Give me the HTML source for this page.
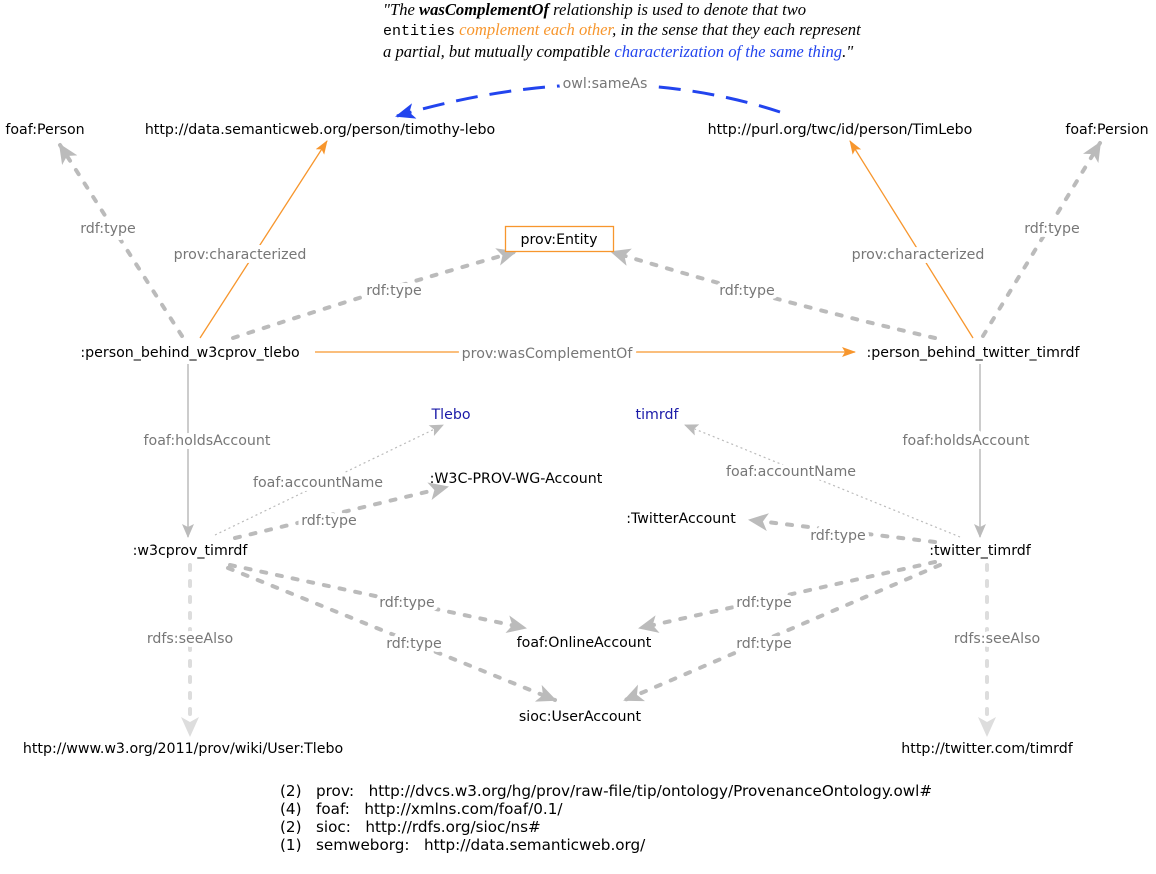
<!DOCTYPE html>
<html><head><meta charset="utf-8"><style>
html,body{margin:0;padding:0;background:#fff;width:1156px;height:874px;overflow:hidden}
svg text{font-family:"DejaVu Sans",sans-serif;font-size:14.2px}
.n{fill:#000;text-anchor:middle}
.l{fill:#777;text-anchor:middle;stroke:#fff;stroke-width:8;paint-order:stroke;stroke-linejoin:round}
.b{fill:#1a1aa8;text-anchor:middle}
.dt{stroke:#bbb;stroke-width:4;stroke-dasharray:5,11;stroke-linecap:round;fill:none}
.dl{stroke:#ddd;stroke-width:4;stroke-dasharray:5,11;stroke-linecap:round;fill:none}
.or{stroke:#f7962d;stroke-width:1.3;fill:none}
.gr{stroke:#bbb;stroke-width:1.5;fill:none}
.dot{stroke:#bbb;stroke-width:1.2;stroke-dasharray:2,3;fill:none}
.q{position:absolute;left:383px;top:0px;font-family:"Liberation Serif",serif;font-style:italic;font-size:16.6px;line-height:20px;color:#000;width:560px;white-space:nowrap}
.ns{position:absolute;left:280px;top:782px;font-family:"DejaVu Sans",sans-serif;font-size:15.2px;line-height:18px;color:#000;white-space:nowrap}
</style></head><body>
<div class="q">"The <b>wasComplementOf</b> relationship is used to denote that two<br><span style="font-family:'Liberation Mono',monospace;font-style:normal;font-size:15px">entities</span> <span style="color:#f7962d">complement each other</span>, in the sense that they each represent<br>a partial, but mutually compatible <span style="color:#2244ee">characterization of the same thing</span>."</div>
<svg width="1156" height="874" style="position:absolute;left:0;top:0">
<defs>
<marker id="agb" markerWidth="20" markerHeight="18" refX="18" refY="9" orient="auto" markerUnits="userSpaceOnUse"><path d="M0,0 L20,9 L0,18 L5,9 z" fill="#bbb"/></marker>
<marker id="agl" markerWidth="20" markerHeight="18" refX="18" refY="9" orient="auto" markerUnits="userSpaceOnUse"><path d="M0,0 L20,9 L0,18 L5,9 z" fill="#ddd"/></marker>
<marker id="ao" markerWidth="14" markerHeight="10" refX="13" refY="5" orient="auto" markerUnits="userSpaceOnUse"><path d="M0,0 L14,5 L0,10 L3,5 z" fill="#f7962d"/></marker>
<marker id="abl" markerWidth="20" markerHeight="16" refX="18" refY="8" orient="auto" markerUnits="userSpaceOnUse"><path d="M0,0 L20,8 L0,16 L5,8 z" fill="#2244ee"/></marker>
<marker id="ag2" markerWidth="14" markerHeight="12" refX="13" refY="6" orient="auto" markerUnits="userSpaceOnUse"><path d="M0,0 L14,6 L0,12 L3,6 z" fill="#bbb"/></marker>
</defs>
<path d="M780,112 Q605,55 397,116" stroke="#2244ee" stroke-width="3" stroke-dasharray="22,12" fill="none" marker-end="url(#abl)"/>
<text class="l" x="605" y="88">owl:sameAs</text>
<line class="dt" x1="182" y1="336" x2="60" y2="145" marker-end="url(#agb)"/>
<line class="or" x1="200" y1="338" x2="327" y2="141" marker-end="url(#ao)"/>
<path class="dt" d="M233,338 Q380,290 515,252" marker-end="url(#agb)"/>
<path class="dt" d="M935,338 Q770,300 612,252" marker-end="url(#agb)"/>
<line class="or" x1="973" y1="338" x2="850" y2="141" marker-end="url(#ao)"/>
<line class="dt" x1="983" y1="336" x2="1100" y2="143" marker-end="url(#agb)"/>
<line class="or" x1="315" y1="352" x2="855" y2="352" marker-end="url(#ao)"/>
<line class="gr" x1="188" y1="364" x2="188" y2="537" marker-end="url(#ag2)"/>
<line class="gr" x1="980" y1="364" x2="980" y2="537" marker-end="url(#ag2)"/>
<line class="dot" x1="215" y1="535" x2="443" y2="425" marker-end="url(#ag2)"/>
<line class="dt" x1="235" y1="538" x2="447" y2="487" marker-end="url(#agb)"/>
<line class="dot" x1="960" y1="537" x2="685" y2="425" marker-end="url(#ag2)"/>
<line class="dt" x1="935" y1="542" x2="750" y2="520" marker-end="url(#agb)"/>
<line class="dt" x1="230" y1="565" x2="525" y2="628" marker-end="url(#agb)"/>
<line class="dt" x1="228" y1="568" x2="555" y2="700" marker-end="url(#agb)"/>
<line class="dt" x1="935" y1="562" x2="640" y2="628" marker-end="url(#agb)"/>
<line class="dt" x1="940" y1="565" x2="625" y2="700" marker-end="url(#agb)"/>
<line class="dl" x1="190" y1="565" x2="190" y2="735" marker-end="url(#agl)"/>
<line class="dl" x1="987" y1="565" x2="987" y2="735" marker-end="url(#agl)"/>
<text class="l" x="108" y="233">rdf:type</text>
<text class="l" x="240" y="259">prov:characterized</text>
<text class="l" x="394" y="295">rdf:type</text>
<text class="l" x="747" y="295">rdf:type</text>
<text class="l" x="918" y="259">prov:characterized</text>
<text class="l" x="1052" y="233">rdf:type</text>
<text class="l" x="547" y="358">prov:wasComplementOf</text>
<text class="l" x="207" y="445">foaf:holdsAccount</text>
<text class="l" x="966" y="445">foaf:holdsAccount</text>
<text class="l" x="318" y="487">foaf:accountName</text>
<text class="l" x="329" y="525">rdf:type</text>
<text class="l" x="791" y="476">foaf:accountName</text>
<text class="l" x="838" y="540">rdf:type</text>
<text class="l" x="407" y="607">rdf:type</text>
<text class="l" x="414" y="648">rdf:type</text>
<text class="l" x="764" y="607">rdf:type</text>
<text class="l" x="764" y="648">rdf:type</text>
<text class="l" x="190" y="643">rdfs:seeAlso</text>
<text class="l" x="997" y="643">rdfs:seeAlso</text>
<text class="n" x="45" y="134">foaf:Person</text>
<text class="n" x="320" y="134">http://data.semanticweb.org/person/timothy-lebo</text>
<text class="n" x="840" y="134">http://purl.org/twc/id/person/TimLebo</text>
<text class="n" x="1107" y="134">foaf:Persion</text>
<rect x="505.5" y="226.5" width="108" height="25" fill="#fff" stroke="#f7962d" stroke-width="1.3"/>
<text class="n" x="559" y="244">prov:Entity</text>
<text class="n" x="190" y="357">:person_behind_w3cprov_tlebo</text>
<text class="n" x="973" y="357">:person_behind_twitter_timrdf</text>
<text class="b" x="451" y="419">Tlebo</text>
<text class="b" x="657" y="419">timrdf</text>
<text class="n" x="516" y="483">:W3C-PROV-WG-Account</text>
<text class="n" x="681" y="523">:TwitterAccount</text>
<text class="n" x="190" y="555">:w3cprov_timrdf</text>
<text class="n" x="980" y="555">:twitter_timrdf</text>
<text class="n" x="584" y="647">foaf:OnlineAccount</text>
<text class="n" x="580" y="721">sioc:UserAccount</text>
<text class="n" x="183" y="753">http://www.w3.org/2011/prov/wiki/User:Tlebo</text>
<text class="n" x="987" y="753">http://twitter.com/timrdf</text>
</svg>
<div class="ns">(2)&nbsp;&nbsp; prov:&nbsp;&nbsp; http://dvcs.w3.org/hg/prov/raw-file/tip/ontology/ProvenanceOntology.owl#<br>(4)&nbsp;&nbsp; foaf:&nbsp;&nbsp; http://xmlns.com/foaf/0.1/<br>(2)&nbsp;&nbsp; sioc:&nbsp;&nbsp; http://rdfs.org/sioc/ns#<br>(1)&nbsp;&nbsp; semweborg:&nbsp;&nbsp; http://data.semanticweb.org/</div>
</body></html>
